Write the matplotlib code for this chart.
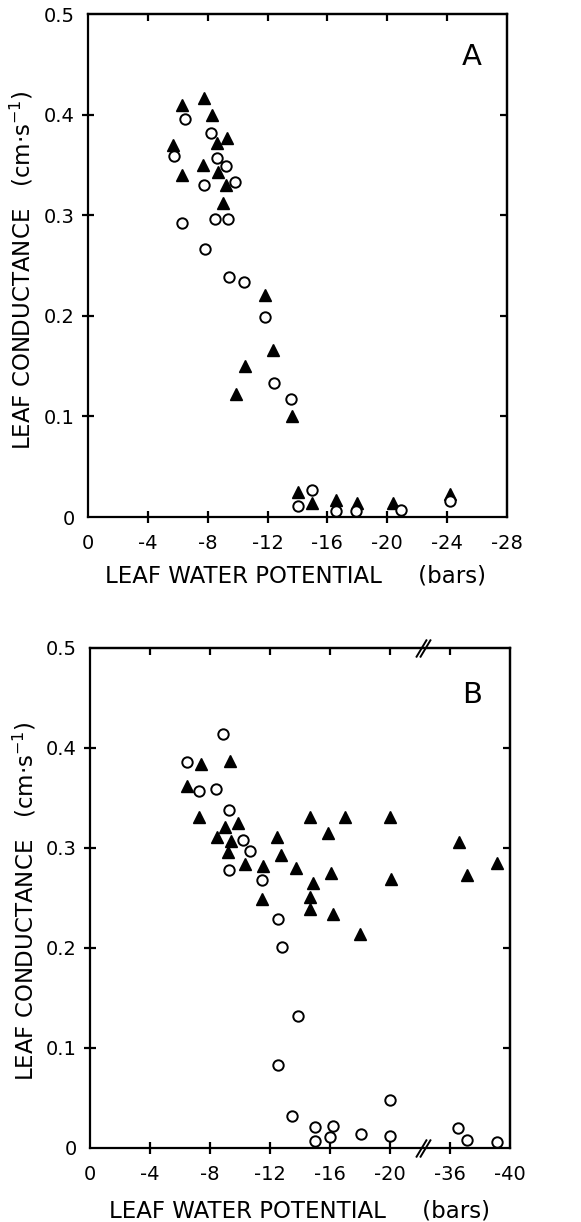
import numpy as np
import matplotlib
matplotlib.use('Agg')
import matplotlib.pyplot as plt
import matplotlib.transforms as mtransforms

plt.rcParams['font.family'] = ['DejaVu Sans']

# panel A: leaf water potential (bars), leaf conductance (cm/s)
a_tri_x = [-5.7, -6.3, -6.3, -7.75, -8.3, -7.7, -8.6, -9.3, -8.7, -9.25, -9.05,
           -11.8, -10.5, -9.9, -12.35, -13.6, -14.0, -15.0, -16.6, -17.95, -20.35, -24.2]
a_tri_y = [0.370, 0.410, 0.340, 0.417, 0.400, 0.350, 0.372, 0.377, 0.343, 0.330, 0.312,
           0.221, 0.150, 0.122, 0.166, 0.100, 0.025, 0.014, 0.017, 0.014, 0.014, 0.023]
a_circ_x = [-6.45, -5.75, -6.3, -8.2, -8.65, -9.2, -7.75, -9.85, -8.5, -9.35, -7.8,
            -9.4, -10.4, -11.85, -12.4, -13.55, -14.05, -15.0, -16.55, -17.9, -20.9, -24.2]
a_circ_y = [0.396, 0.359, 0.292, 0.382, 0.357, 0.349, 0.330, 0.333, 0.296, 0.296, 0.266,
            0.239, 0.234, 0.199, 0.133, 0.117, 0.011, 0.027, 0.006, 0.006, 0.007, 0.016]

# panel B (x axis broken between -20 and -36)
b_tri_x = [-6.45, -7.4, -7.3, -9.35, -8.45, -9.0, -9.9, -9.4, -9.2, -10.35, -11.55,
           -12.45, -12.75, -13.75, -11.5, -14.65, -14.85, -14.7, -14.7, -15.9, -16.1,
           -16.2, -17.0, -18.0, -20.0, -20.05, -36.6, -37.1, -39.1]
b_tri_y = [0.362, 0.384, 0.331, 0.387, 0.311, 0.321, 0.325, 0.307, 0.296, 0.284, 0.282,
           0.311, 0.293, 0.280, 0.249, 0.331, 0.265, 0.251, 0.239, 0.315, 0.275,
           0.234, 0.331, 0.214, 0.331, 0.269, 0.306, 0.273, 0.285]
b_circ_x = [-8.85, -6.45, -7.3, -8.4, -9.25, -10.2, -10.65, -9.25, -11.45, -12.55, -12.8,
            -13.9, -12.55, -13.5, -15.0, -15.0, -16.2, -16.0, -18.05, -20.0, -20.0,
            -36.55, -37.1, -39.15]
b_circ_y = [0.414, 0.386, 0.357, 0.359, 0.338, 0.308, 0.297, 0.278, 0.268, 0.229, 0.201,
            0.132, 0.083, 0.032, 0.021, 0.007, 0.022, 0.011, 0.014, 0.048, 0.012,
            0.020, 0.008, 0.006]

y_ticks = [0, 0.1, 0.2, 0.3, 0.4, 0.5]
y_labels = ['0', '0.1', '0.2', '0.3', '0.4', '0.5']
a_xticks = [0, -4, -8, -12, -16, -20, -24, -28]
a_xlabels = ['0', '-4', '-8', '-12', '-16', '-20', '-24', '-28']
b_xlabels = ['0', '-4', '-8', '-12', '-16', '-20', '-36', '-40']
b_gap = 12       # bars removed by the axis break
b_break = -22.2  # where the // sits


def squeeze(x):
    x = np.asarray(x, dtype=float)
    return np.where(x < -30, x + b_gap, x)


def style_axes(ax, xticks, xlabels):
    ax.set_xlim(0, -28)
    ax.set_ylim(0, 0.5)
    for s in ax.spines.values():
        s.set_linewidth(1.6)
    ax.set_xticks(xticks)
    ax.set_xticklabels(xlabels, fontsize=14)
    ax.set_yticks(y_ticks)
    ax.set_yticklabels(y_labels, fontsize=14)
    ax.tick_params(axis='x', direction='inout', length=9, width=1.6, pad=8)
    ax.tick_params(axis='y', direction='inout', length=9, width=1.6, pad=5)
    # no tick marks in the corners
    for t in (ax.xaxis.get_major_ticks()[0], ax.xaxis.get_major_ticks()[-1],
              ax.yaxis.get_major_ticks()[0], ax.yaxis.get_major_ticks()[-1]):
        t.tick1line.set_visible(False)
    top = ax.secondary_xaxis('top')
    top.set_xticks(xticks[1:-1])
    top.set_xticklabels([])
    top.tick_params(direction='in', length=5, width=1.6)
    top.spines['top'].set_linewidth(1.6)
    right = ax.secondary_yaxis('right')
    right.set_yticks(y_ticks[1:-1])
    right.set_yticklabels([])
    right.tick_params(direction='in', length=5, width=1.6)
    right.spines['right'].set_linewidth(1.6)


fig = plt.figure(figsize=(5.81, 12.22), dpi=100)

axA = fig.add_axes([0.1515, 0.5769, 0.7211, 0.4116])
axA.plot(a_tri_x, a_tri_y, '^', color='black', ms=9, ls='none', clip_on=False, zorder=3)
axA.plot(a_circ_x, a_circ_y, 'o', mfc='white', mec='black', mew=1.4, ms=7.5,
         ls='none', clip_on=False, zorder=4)
style_axes(axA, a_xticks, a_xlabels)
axA.text(0.915, 0.915, 'A', transform=axA.transAxes, fontsize=21,
         ha='center', va='center')

axB = fig.add_axes([0.1549, 0.0606, 0.7229, 0.4092])
axB.plot(squeeze(b_tri_x), b_tri_y, '^', color='black', ms=9, ls='none',
         clip_on=False, zorder=3)
axB.plot(squeeze(b_circ_x), b_circ_y, 'o', mfc='white', mec='black', mew=1.4, ms=7.5,
         ls='none', clip_on=False, zorder=4)
style_axes(axB, a_xticks, b_xlabels)
axB.text(0.91, 0.905, 'B', transform=axB.transAxes, fontsize=21,
         ha='center', va='center')

# axis break marks on bottom and top spines
trans = mtransforms.blended_transform_factory(axB.transData, axB.transAxes)
slash = [(-0.6, -1.0), (0.6, 1.0)]
for yy in (0, 1):
    for dx in (-0.15, 0.15):
        axB.plot([b_break + dx], [yy], marker=slash, ms=13, mew=1.4, color='black',
                 transform=trans, clip_on=False, ls='none', zorder=5)

ylab = 'LEAF CONDUCTANCE   (cm\u00b7s$^{-1}$)'
xlab = 'LEAF WATER POTENTIAL     (bars)'
fig.text(0.038, 0.779, ylab, rotation=90, fontsize=16.5, ha='center', va='center')
fig.text(0.508, 0.5286, xlab, fontsize=16.5, ha='center', va='center')
fig.text(0.043, 0.2627, ylab, rotation=90, fontsize=16.5, ha='center', va='center')
fig.text(0.516, 0.009, xlab, fontsize=16.5, ha='center', va='center')

fig.savefig('out.png', dpi=100)
